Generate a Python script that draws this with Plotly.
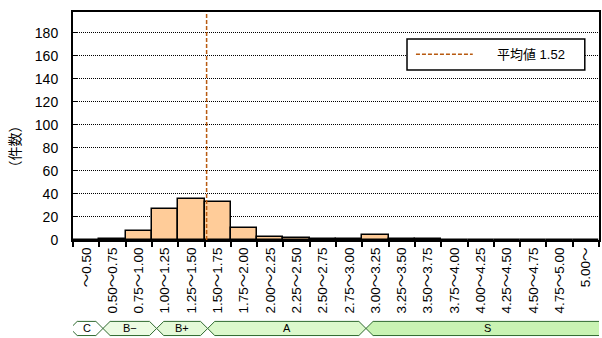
import plotly.graph_objects as go

# ---- data ----
categories = ["〜0.50", "0.50〜0.75", "0.75〜1.00", "1.00〜1.25", "1.25〜1.50",
              "1.50〜1.75", "1.75〜2.00", "2.00〜2.25", "2.25〜2.50", "2.50〜2.75",
              "2.75〜3.00", "3.00〜3.25", "3.25〜3.50", "3.50〜3.75", "3.75〜4.00",
              "4.00〜4.25", "4.25〜4.50", "4.50〜4.75", "4.75〜5.00", "5.00〜"]
counts = [0, 1, 8, 27, 36, 33, 10, 3, 2, 1, 1, 4, 1, 1, 0, 0, 0, 0, 0, 0]
mean_value = 1.52
y_ticks = [0, 20, 40, 60, 80, 100, 120, 140, 160, 180]

grade_names = ["C", "B−", "B+", "A", "S"]
grade_start = [-0.61, 0.64, 2.68, 4.62, 10.64]   # in category-index units
grade_end = [0.64, 2.68, 4.62, 10.64, 20.1]
grade_fill = ["#ffffff", "#ecfbe3", "#e4f9d8", "#dcf8cc", "#c9f3b3"]

FONT = "Liberation Sans, Noto Sans CJK JP, sans-serif"

fig = go.Figure()
fig.add_trace(go.Bar(
    x=categories, y=counts,
    marker=dict(color="#ffcc99", line=dict(color="black", width=1.5)),
    showlegend=False, hoverinfo="skip",
))

# mean line: bins start at 0.50 with width 0.25 (index 1 centered)
mean_idx = (mean_value - 0.5) / 0.25 + 0.5
fig.add_shape(type="line", xref="x", yref="paper", x0=mean_idx, x1=mean_idx,
              y0=0, y1=1, line=dict(color="#b85a10", width=1.5, dash="4px,2px"),
              layer="above")

# legend box (manual)
fig.add_shape(type="rect", xref="paper", yref="paper", x0=0.635, x1=0.973,
              y0=0.746, y1=0.882, line=dict(color="black", width=1.5),
              fillcolor="white", layer="above")
fig.add_shape(type="line", xref="paper", yref="paper", x0=0.652, x1=0.760,
              y0=0.815, y1=0.815, line=dict(color="#b85a10", width=1.5, dash="4px,2px"),
              layer="above")
fig.add_annotation(xref="paper", yref="paper", x=0.802, y=0.815, xanchor="left",
                   yanchor="middle", text=f"平均値 {mean_value}", showarrow=False,
                   font=dict(size=13, color="black", family=FONT))

# y-axis title
fig.add_annotation(xref="paper", yref="paper", x=-0.112, y=0.41, text="（件数）",
                   textangle=-90, showarrow=False, xanchor="center", yanchor="middle",
                   font=dict(size=14, color="black", family=FONT))

# grade bands below the axis
y_top, y_bot = -0.357, -0.419
y_mid = (y_top + y_bot) / 2
d = 0.27
for name, s, e, fc in zip(grade_names, grade_start, grade_end, grade_fill):
    path = (f"M {s} {y_mid} L {s + d} {y_top} L {e - d} {y_top} L {e} {y_mid} "
            f"L {e - d} {y_bot} L {s + d} {y_bot} Z")
    fig.add_shape(type="path", xref="x", yref="paper", path=path,
                  fillcolor=fc, line=dict(color="#2f6a2f", width=1))
    cx = (s + min(e, 19.9)) / 2
    fig.add_annotation(xref="x", yref="paper", x=cx, y=y_mid, text=name,
                       showarrow=False, yanchor="middle",
                       font=dict(size=11, color="black", family=FONT))

fig.update_layout(
    width=602, height=338,
    margin=dict(l=73, r=3, t=12, b=98),
    paper_bgcolor="white", plot_bgcolor="white",
    bargap=0,
    font=dict(family=FONT, color="black"),
    xaxis=dict(type="category", range=[-0.5, 19.5], tickangle=-90,
               tickfont=dict(size=13.5), ticks="outside", ticklen=5,
               tickson="boundaries", tickcolor="black", tickwidth=1.5,
               showgrid=False, showline=True, linecolor="black", linewidth=2,
               mirror=True, automargin=False),
    yaxis=dict(range=[0, 198], tickvals=y_ticks, tickfont=dict(size=14),
               ticks="inside", ticklen=4, tickcolor="black",
               showgrid=True, gridcolor="black", griddash="1px,1px", gridwidth=1,
               showline=True, linecolor="black", linewidth=2, mirror=True,
               zeroline=False, ticklabelstandoff=10, automargin=False),
)

fig.write_html("out.html", config={"displayModeBar": False},
               post_script="document.body.style.margin='0';document.body.style.overflow='hidden';")
